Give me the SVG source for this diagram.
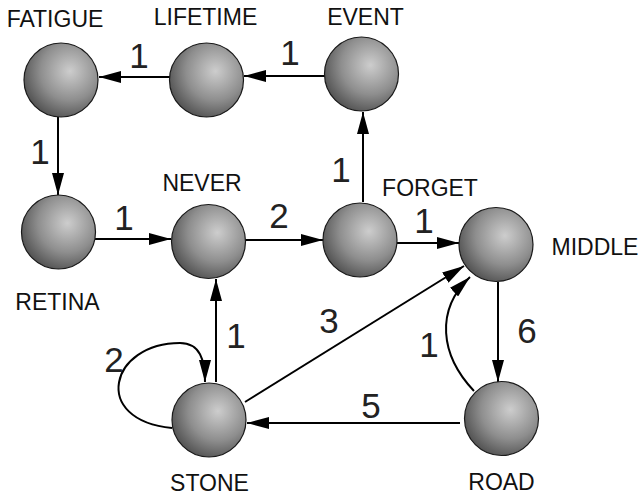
<svg xmlns="http://www.w3.org/2000/svg" width="641" height="498" viewBox="0 0 641 498">
<defs>
<radialGradient id="sph" cx="0.62" cy="0.38" r="0.72" fx="0.62" fy="0.38">
<stop offset="0" stop-color="#cdcdcd"/>
<stop offset="0.55" stop-color="#8e8e8e"/>
<stop offset="1" stop-color="#474747"/>
</radialGradient>
<marker id="arr" markerUnits="userSpaceOnUse" markerWidth="22" markerHeight="12" refX="22" refY="6" orient="auto">
<path d="M0,0 L22,6 L0,12 z" fill="#000"/>
</marker>
</defs>
<style>
.node circle{fill:url(#sph);stroke:#1a1a1a;stroke-width:1.2}
.lbl{font-family:"Liberation Sans",Arial,sans-serif;font-size:23px;fill:#111;text-anchor:middle}
.w{font-family:"Liberation Sans",Arial,sans-serif;font-size:35px;fill:#222;text-anchor:middle}
.e{fill:none;stroke:#000;stroke-width:2;marker-end:url(#arr)}
</style>
<rect width="641" height="498" fill="#fff"/>
<g id="connectors">
<line class="e" x1="170" y1="77" x2="99" y2="77"/>
<line class="e" x1="325" y1="76" x2="244" y2="76"/>
<line class="e" x1="58" y1="117" x2="58" y2="195"/>
<line class="e" x1="95" y1="239" x2="171" y2="239"/>
<line class="e" x1="245" y1="240" x2="323" y2="240"/>
<line class="e" x1="363" y1="202" x2="363" y2="112"/>
<line class="e" x1="397" y1="243" x2="459" y2="243"/>
<line class="e" x1="498" y1="282" x2="498" y2="382"/>
<line class="e" x1="460" y1="423" x2="247" y2="423"/>
<line class="e" x1="216" y1="382" x2="216" y2="279"/>
<line class="e" x1="245" y1="402" x2="464" y2="266"/>
<path class="e" d="M474,391 C440,355 435,310 470,277"/>
<path class="e" d="M172,428 C90,420 110,343 180,343 C200,343 205,360 205,382"/>
<text class="w" x="139" y="68">1</text>
<text class="w" x="290" y="65">1</text>
<text class="w" x="40" y="164">1</text>
<text class="w" x="124" y="230">1</text>
<text class="w" x="279" y="228">2</text>
<text class="w" x="341" y="182">1</text>
<text class="w" x="424" y="233">1</text>
<text class="w" x="329" y="333">3</text>
<text class="w" x="429" y="357">1</text>
<text class="w" x="527" y="343">6</text>
<text class="w" x="371" y="418">5</text>
<text class="w" x="236" y="348">1</text>
<text class="w" x="114" y="372">2</text>
</g>
<g id="FATIGUE" class="node"><circle cx="61" cy="80" r="37"/><text class="lbl" x="55" y="27">FATIGUE</text></g>
<g id="LIFETIME" class="node"><circle cx="206.5" cy="80" r="37"/><text class="lbl" x="205.5" y="25">LIFETIME</text></g>
<g id="EVENT" class="node"><circle cx="361.5" cy="74" r="37"/><text class="lbl" x="365.5" y="25">EVENT</text></g>
<g id="RETINA" class="node"><circle cx="58.5" cy="232" r="37"/><text class="lbl" x="57.5" y="310">RETINA</text></g>
<g id="NEVER" class="node"><circle cx="208.5" cy="241.5" r="37"/><text class="lbl" x="202" y="191">NEVER</text></g>
<g id="FORGET" class="node"><circle cx="360" cy="240" r="37"/><text class="lbl" x="430" y="196">FORGET</text></g>
<g id="MIDDLE" class="node"><circle cx="496" cy="244.5" r="37"/><text class="lbl" x="595" y="255">MIDDLE</text></g>
<g id="STONE" class="node"><circle cx="209" cy="420" r="37"/><text class="lbl" x="209.5" y="491">STONE</text></g>
<g id="ROAD" class="node"><circle cx="501.5" cy="418.5" r="37"/><text class="lbl" x="501.5" y="490">ROAD</text></g>
</svg>
